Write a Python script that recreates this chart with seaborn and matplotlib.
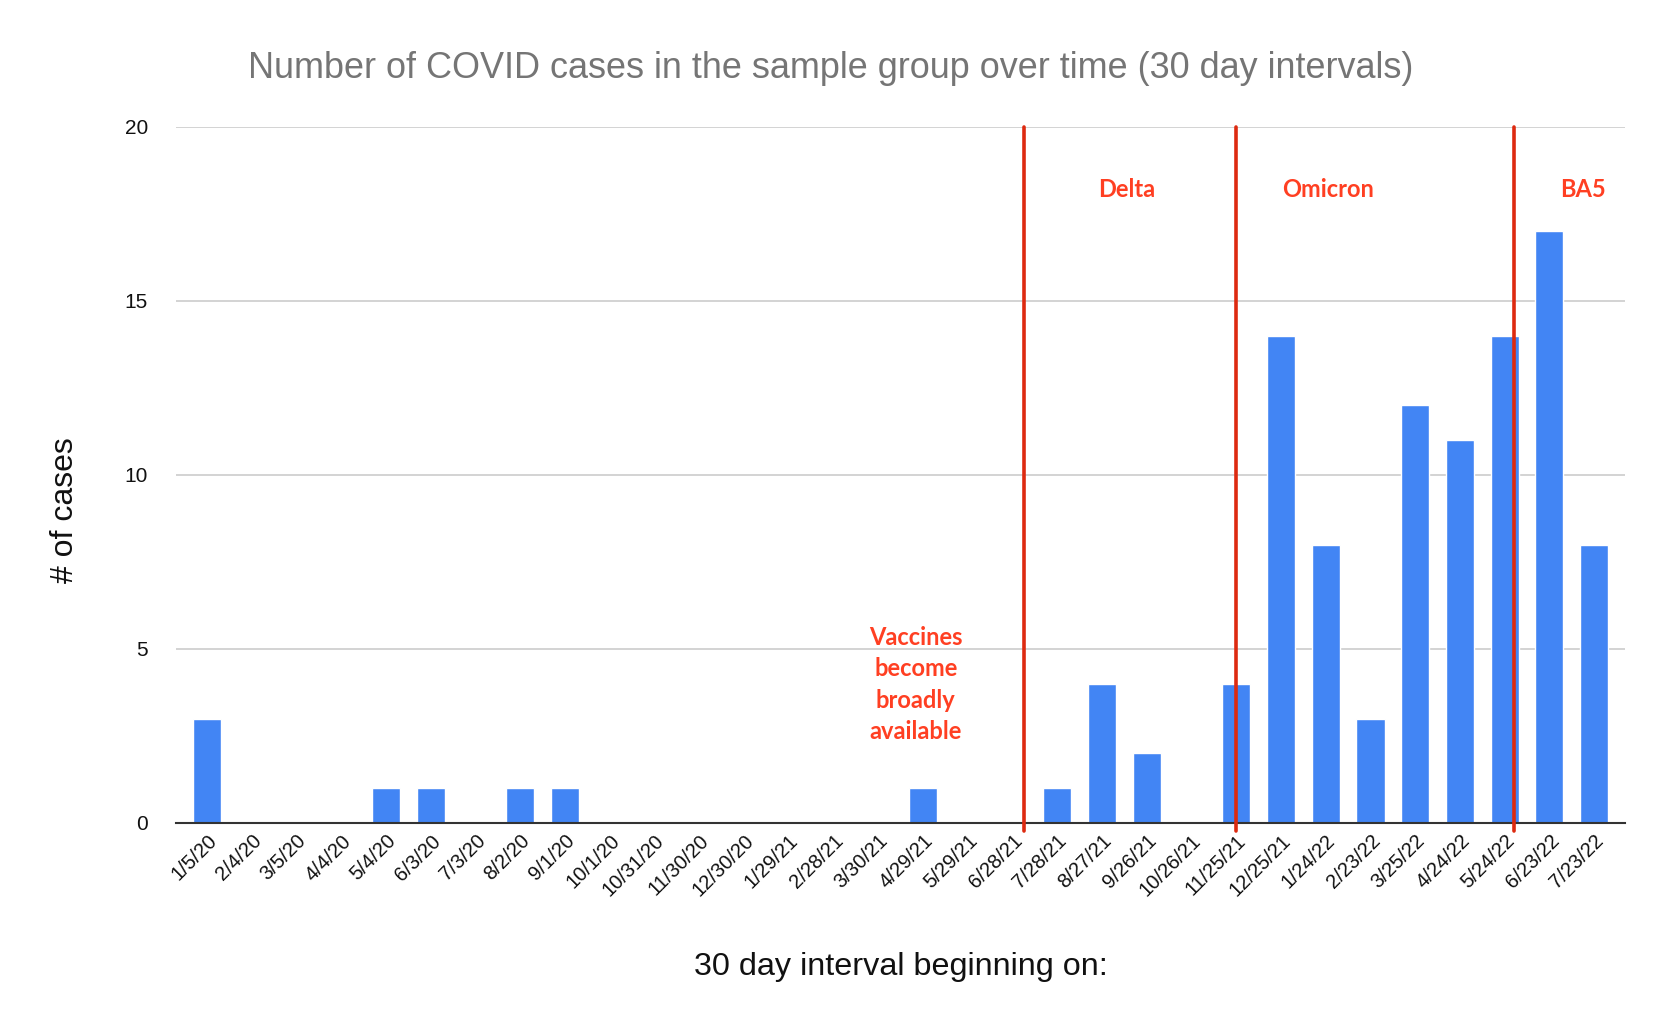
import matplotlib
matplotlib.use("Agg")
import matplotlib.pyplot as plt
import seaborn as sns
import pandas as pd

dates = ["1/5/20", "2/4/20", "3/5/20", "4/4/20", "5/4/20", "6/3/20", "7/3/20", "8/2/20",
         "9/1/20", "10/1/20", "10/31/20", "11/30/20", "12/30/20", "1/29/21", "2/28/21",
         "3/30/21", "4/29/21", "5/29/21", "6/28/21", "7/28/21", "8/27/21", "9/26/21",
         "10/26/21", "11/25/21", "12/25/21", "1/24/22", "2/23/22", "3/25/22", "4/24/22",
         "5/24/22", "6/23/22", "7/23/22"]
cases = [3, 0, 0, 0, 1, 1, 0, 1, 1, 0, 0, 0, 0, 0, 0, 0, 1, 0, 0, 1, 4, 2, 0, 4,
         14, 8, 3, 12, 11, 14, 17, 8]

variant_lines = [18.25, 23.0, 29.2]
variant_labels = ["Delta", "Omicron", "BA5"]
variant_label_x = [20.56, 25.06, 30.76]
variant_label_y = 18.2

df = pd.DataFrame({"date": dates, "cases": cases})

sns.set_theme(style="white")
plt.rcParams['font.family'] = ['Liberation Sans', 'DejaVu Sans']

fig = plt.figure(figsize=(16.74, 10.14), dpi=100)
ax = fig.add_axes([0.105, 0.1884, 0.866, 0.6864])

sns.barplot(data=df, x="date", y="cases", color="#4285f4", saturation=1,
            width=0.63, ax=ax, zorder=3)

ax.set_ylim(0, 20)
ax.set_xlim(-0.7, len(dates) - 0.3)
ax.set_yticks([0, 5, 10, 15, 20])
ax.yaxis.grid(True, color="#cccccc", linewidth=1.2, zorder=0)
ax.set_axisbelow(True)
for s in ["top", "right", "left"]:
    ax.spines[s].set_visible(False)
ax.spines["bottom"].set_color("#333333")
ax.spines["bottom"].set_linewidth(1.5)
ax.spines["bottom"].set_zorder(4)

ax.tick_params(axis="y", labelsize=15, length=0, pad=20, colors="#111111")
ax.tick_params(axis="x", labelsize=14.5, length=0, pad=6, colors="#111111")
plt.setp(ax.get_xticklabels(), rotation=45, ha="right", rotation_mode="anchor")

for xv in variant_lines:
    ax.axvline(xv, ymin=-0.012, ymax=1, color="#dd2a10", linewidth=2.6,
               zorder=5, clip_on=False)

red = "#ff3f22"
for lab, xl in zip(variant_labels, variant_label_x):
    ax.text(xl, variant_label_y, lab, color=red, fontsize=17, fontweight="bold",
            ha="center", va="center", family=["Lato", "DejaVu Sans"], zorder=6)

ax.text(15.84, 3.98, "Vaccines\nbecome\nbroadly\navailable", color=red, fontsize=17,
        fontweight="bold", ha="center", va="center", linespacing=1.45,
        family=["Lato", "DejaVu Sans"], zorder=6)

ax.set_xlabel("30 day interval beginning on:", fontsize=23.3, color="#111111")
ax.set_ylabel("# of cases", fontsize=23, color="#111111")
ax.xaxis.set_label_coords(0.5, -0.185)
ax.yaxis.set_label_coords(-0.066, 0.45)

fig.text(0.496, 0.932, "Number of COVID cases in the sample group over time (30 day intervals)",
         fontsize=25.9, color="#757575", ha="center", va="center")

fig.savefig("out.png", dpi=100, facecolor="white")
